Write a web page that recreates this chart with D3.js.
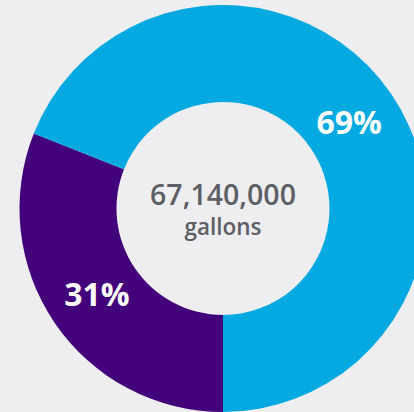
<!DOCTYPE html>
<html>
<head>
  <meta charset="UTF-8">
  <style>
    body { margin: 0; background: #eeeef0; }
    svg { display: block; }
    text { font-family: 'Open Sans', 'Noto Sans', sans-serif; }
  </style>
</head>
<body>
<svg></svg>
<script src="https://d3js.org/d3.v7.min.js"></script>
<script>
  let width = 414, height = 412;

  // data
  const categories = ["Purple", "Blue"];
  const shares = [31, 69];
  const colors = ["#42007a", "#03a9e0"];
  const totalLabel = "67,140,000";
  const unitLabel = "gallons";

  let svg = d3.select("svg")
      .attr("width", width)
      .attr("height", height);

  const cx = 223, cy = 208.5;
  const outerR = 203.5, innerR = 106.5;

  let g = svg.append("g").attr("transform", "translate(" + cx + "," + cy + ")");

  const pie = d3.pie()
      .sort(null)
      .value(d => d)
      .startAngle(Math.PI)
      .endAngle(3 * Math.PI);

  const arc = d3.arc().innerRadius(innerR).outerRadius(outerR);
  const labelArc = d3.arc().innerRadius(innerR + 45).outerRadius(outerR - 50);

  const arcs = pie(shares);

  g.selectAll("path")
    .data(arcs)
    .enter()
    .append("path")
    .attr("d", arc)
    .attr("fill", (d, i) => colors[i]);

  g.selectAll("text.pct")
    .data(arcs)
    .enter()
    .append("text")
    .attr("class", "pct")
    .attr("transform", d => "translate(" + labelArc.centroid(d) + ")")
    .attr("text-anchor", "middle")
    .attr("dy", "0.36em")
    .attr("fill", "#fff")
    .attr("font-weight", 700)
    .attr("font-size", 32)
    .text(d => d.data + "%");

  // center labels
  g.append("text")
    .attr("text-anchor", "middle")
    .attr("y", -3.5)
    .attr("fill", "#5d5e66")
    .attr("font-weight", 600)
    .attr("font-size", 28.5)
    .text(totalLabel);

  g.append("text")
    .attr("text-anchor", "middle")
    .attr("y", 26)
    .attr("fill", "#5d5e66")
    .attr("font-weight", 600)
    .attr("font-size", 22.5)
    .text(unitLabel);
</script>
</body>
</html>
